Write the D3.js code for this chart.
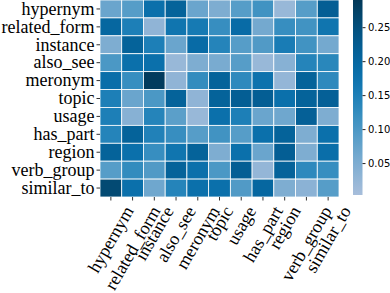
<!DOCTYPE html>
<html>
<head>
<meta charset="utf-8">
<script src="https://cdn.jsdelivr.net/npm/d3@7"></script>
<style>
  body { margin: 0; background: #fff; }
  svg { display: block; }
</style>
</head>
<body>
<svg id="chart"></svg>
<script>
// relation types (rows and columns are the same list)
const relations = ['hypernym', 'related_form', 'instance', 'also_see', 'meronym', 'topic',
  'usage', 'has_part', 'region', 'verb_group', 'similar_to']

// one row of values per relation
const hypernymRow = [0.07, 0.09, 0.18, 0.21, 0.07, 0.05, 0.09, 0.11, 0.02, 0.09, 0.22]
const relatedFormRow = [0.20, 0.15, 0.03, 0.17, 0.16, 0.12, 0.19, 0.06, 0.12, 0.11, 0.17]
const instanceRow = [0.05, 0.21, 0.15, 0.07, 0.19, 0.14, 0.09, 0.095, 0.155, 0.11, 0.06]
const alsoSeeRow = [0.10, 0.18, 0.18, 0.02, 0.05, 0.055, 0.09, 0.02, 0.04, 0.14, 0.135]
const meronymRow = [0.185, 0.12, 0.285, 0.03, 0.125, 0.21, 0.13, 0.175, 0.025, 0.21, 0.13]
const topicRow = [0.15, 0.07, 0.10, 0.21, 0.03, 0.21, 0.22, 0.22, 0.18, 0.21, 0.215]
const usageRow = [0.15, 0.04, 0.14, 0.085, 0.02, 0.18, 0.15, 0.07, 0.065, 0.215, 0.05]
const hasPartRow = [0.14, 0.21, 0.145, 0.12, 0.09, 0.11, 0.09, 0.18, 0.21, 0.05, 0.18]
const regionRow = [0.21, 0.18, 0.12, 0.17, 0.21, 0.05, 0.18, 0.07, 0.22, 0.05, 0.185]
const verbGroupRow = [0.09, 0.125, 0.095, 0.21, 0.18, 0.10, 0.22, 0.025, 0.21, 0.13, 0.12]
const similarToRow = [0.26, 0.18, 0.065, 0.14, 0.18, 0.18, 0.095, 0.20, 0.05, 0.035, 0.09]

const rows = [hypernymRow, relatedFormRow, instanceRow, alsoSeeRow, meronymRow, topicRow,
  usageRow, hasPartRow, regionRow, verbGroupRow, similarToRow]

const colorTicks = [0.05, 0.10, 0.15, 0.20, 0.25]
const valueMin = 0.003
const valueMax = 0.29

const W = 390
const H = 293
const margin = { top: 0, left: 100 }
const width = 239
const height = 197

const svg = d3.select('#chart').attr('width', W).attr('height', H)

// flatten rows into cells
const cells = []
rows.forEach((r, i) => r.forEach((v, j) => cells.push({ row: relations[i], col: relations[j], value: v })))

const x = d3.scaleBand().domain(relations).range([0, width])
const y = d3.scaleBand().domain(relations).range([0, height])

// PuBu, with the pale bottom cut off
const color = d3.scaleSequential(t => d3.interpolatePuBu(0.37 + 0.63 * t))
  .domain([valueMin, valueMax])

const g = svg.append('g').attr('transform', `translate(${margin.left},${margin.top})`)

g.selectAll('rect.cell')
  .data(cells)
  .enter()
  .append('rect')
  .attr('class', 'cell')
  .attr('x', d => x(d.col))
  .attr('y', d => y(d.row))
  .attr('width', x.bandwidth())
  .attr('height', y.bandwidth())
  .attr('fill', d => color(d.value))
  .attr('stroke', '#fff')
  .attr('stroke-width', 0.8)

// y axis: relation names
g.append('g')
  .call(d3.axisLeft(y).tickSize(3.5).tickPadding(2))
  .call(a => a.select('.domain').remove())
  .call(a => a.selectAll('line').attr('stroke', '#333'))
  .selectAll('text')
  .style('font-family', '"Liberation Serif", "Times New Roman", serif')
  .style('font-size', '18px')
  .attr('fill', '#000')

// x axis: rotated names, centred under each tick like matplotlib's ha='center'
const angle = 60
const rad = angle * Math.PI / 180
const xAxis = g.append('g')
  .attr('transform', `translate(0,${height})`)
  .call(d3.axisBottom(x).tickSize(3.5))
  .call(a => a.select('.domain').remove())
  .call(a => a.selectAll('line').attr('stroke', '#333'))
xAxis.selectAll('text')
  .style('font-family', '"Liberation Serif", "Times New Roman", serif')
  .style('font-size', '18px')
  .attr('fill', '#000')
  .attr('dy', null)
  .attr('text-anchor', 'middle')
  .attr('dominant-baseline', 'central')
  .each(function() {
    const len = this.getComputedTextLength()
    const boxH = len * Math.sin(rad) + 19 * Math.cos(rad)
    const cy = 6 + boxH / 2
    d3.select(this)
      .attr('x', 0)
      .attr('y', cy)
      .attr('transform', `rotate(${-angle},0,${cy})`)
  })

// colour bar
const cbX = 353
const cbW = 9.5
const cbH = 195
const defs = svg.append('defs')
const grad = defs.append('linearGradient')
  .attr('id', 'cbgrad')
  .attr('x1', 0).attr('y1', 1).attr('x2', 0).attr('y2', 0)
d3.range(0, 1.0001, 0.05).forEach(t => {
  grad.append('stop')
    .attr('offset', t)
    .attr('stop-color', color(valueMin + t * (valueMax - valueMin)))
})
svg.append('rect')
  .attr('x', cbX)
  .attr('y', 0)
  .attr('width', cbW)
  .attr('height', cbH)
  .attr('fill', 'url(#cbgrad)')

const cbScale = d3.scaleLinear().domain([valueMin, valueMax]).range([cbH, 0])
svg.append('g')
  .attr('transform', `translate(${cbX + cbW},0)`)
  .call(d3.axisRight(cbScale).tickValues(colorTicks).tickFormat(d3.format('.2f')).tickSize(3).tickPadding(2.5))
  .call(a => a.select('.domain').remove())
  .call(a => a.selectAll('line').attr('stroke', '#222'))
  .selectAll('text')
  .style('font-family', '"DejaVu Sans", sans-serif')
  .style('font-size', '10px')
  .attr('fill', '#000')
</script>
</body>
</html>
